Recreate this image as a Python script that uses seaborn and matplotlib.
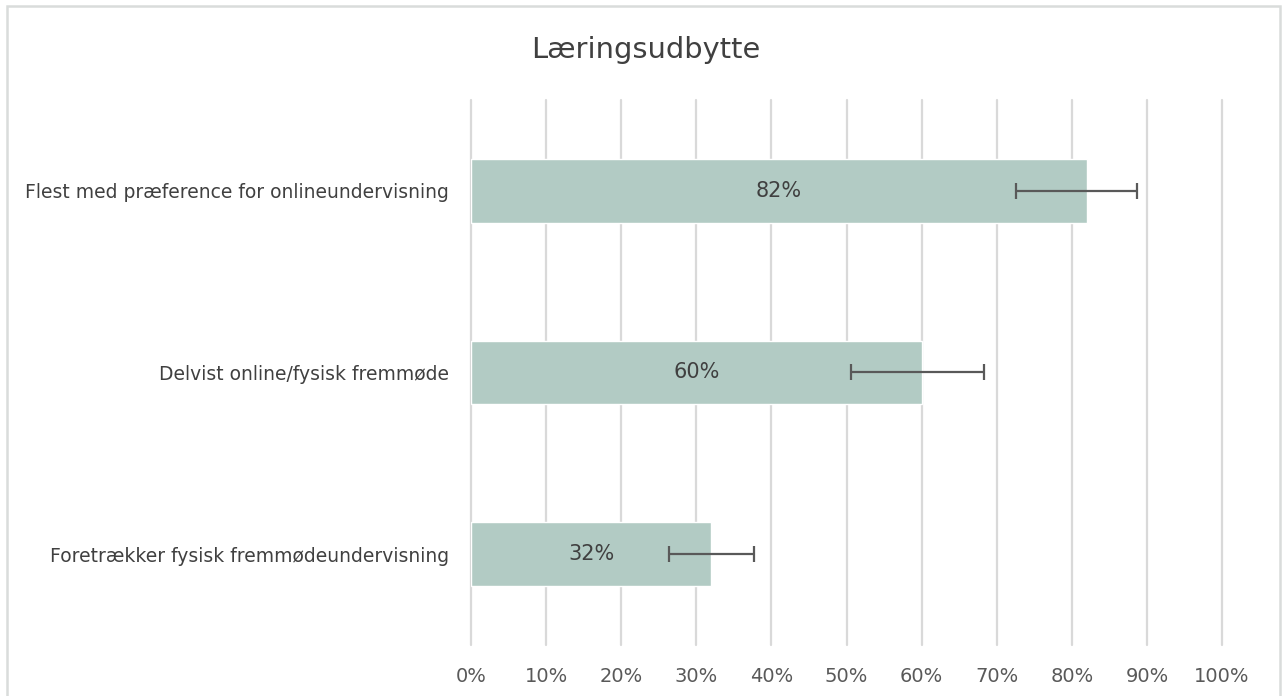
import pandas as pd
import matplotlib
matplotlib.use("Agg")
import matplotlib.pyplot as plt
import matplotlib.patches as mpatches
import seaborn as sns

# data
categories = [
    "Flest med præference for onlineundervisning",
    "Delvist online/fysisk fremmøde",
    "Foretrækker fysisk fremmødeundervisning",
]
values = [82, 60, 32]
err_low = [9.4, 9.4, 5.6]
err_high = [6.7, 8.3, 5.7]
ticks = list(range(0, 101, 10))

df = pd.DataFrame({"kategori": categories, "andel": values})

sns.set_theme(style="white")
plt.rcParams["font.family"] = ["DejaVu Sans"]

fig = plt.figure(figsize=(12.82, 6.96), dpi=100)
ax = fig.add_axes([0.3674, 0.0733, 0.5858, 0.7830])

sns.barplot(data=df, x="andel", y="kategori", color="#b2cbc4",
            width=0.35, errorbar=None, saturation=1, ax=ax, zorder=2)

ax.errorbar(values, range(len(values)), xerr=[err_low, err_high],
            fmt="none", ecolor="#595959", elinewidth=1.6, capsize=6,
            capthick=1.6, zorder=3)

for i, v in enumerate(values):
    ax.text(v / 2, i, f"{v}%", ha="center", va="center",
            fontsize=15, color="#404040", zorder=4)

ax.set_xlim(0, 100)
ax.set_ylim(2.5, -0.5)
ax.set_xticks(ticks)
ax.set_xticklabels([f"{t}%" for t in ticks], fontsize=14, color="#595959")
ax.tick_params(axis="x", length=0, pad=16)
ax.tick_params(axis="y", length=0, pad=16, labelsize=13.5, labelcolor="#404040")
ax.set_xlabel("")
ax.set_ylabel("")
ax.grid(axis="x", color="#d9d9d9", linewidth=1.6, zorder=0)
ax.set_axisbelow(True)
for gl in ax.get_xgridlines():
    gl.set_clip_on(False)
sns.despine(ax=ax, left=True, bottom=True)

fig.text(0.504, 0.928, "Læringsudbytte", ha="center", va="center",
         fontsize=20.8, color="#404040")

# light frame around the chart area
fig.add_artist(mpatches.Rectangle((0.0055, -0.05), 0.9929, 1.0414,
                                  transform=fig.transFigure, fill=False,
                                  edgecolor="#d9dcdb", linewidth=1.8))

fig.savefig("out.png", dpi=100)
